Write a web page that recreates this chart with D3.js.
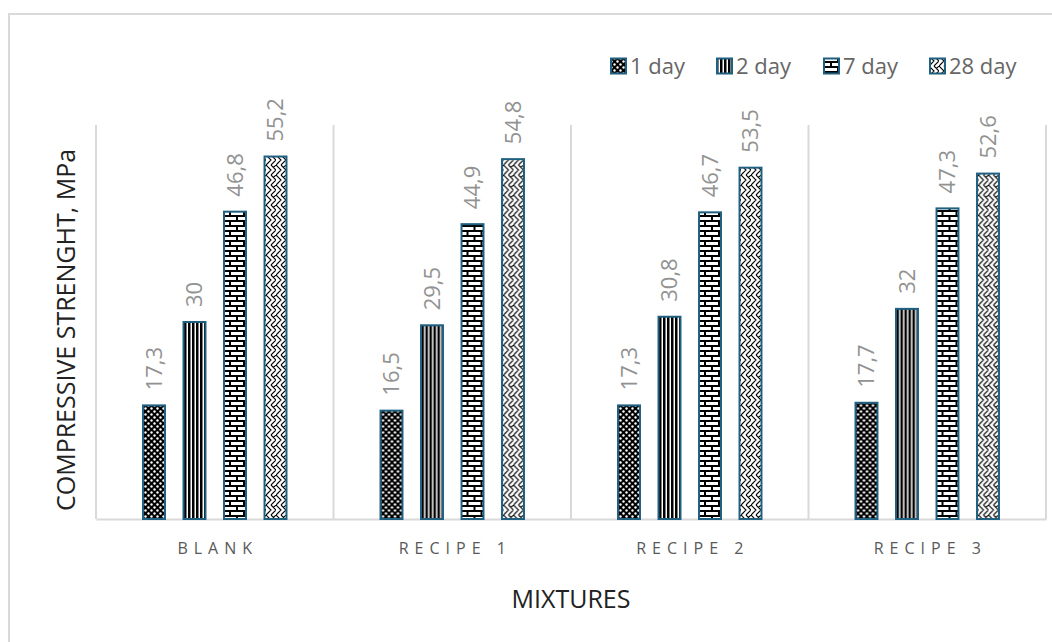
<!DOCTYPE html>
<html>
<head>
<meta charset="utf-8">
<script src="https://cdn.jsdelivr.net/npm/d3@7"></script>
<style>
  body { margin: 0; background: #fff; }
  svg { display: block; font-family: 'Open Sans', sans-serif; }
</style>
</head>
<body>
<div id="chart"></div>
<script>
// data
const categories = ['BLANK', 'RECIPE 1', 'RECIPE 2', 'RECIPE 3']
const seriesNames = ['1 day', '2 day', '7 day', '28 day']
const day1 = [17.3, 16.5, 17.3, 17.7]
const day2 = [30, 29.5, 30.8, 32]
const day7 = [46.8, 44.9, 46.7, 47.3]
const day28 = [55.2, 54.8, 53.5, 52.6]
const yDomain = [0, 60]

const seriesValues = [day1, day2, day7, day28]
const patternIds = ['pat1', 'pat2', 'pat7', 'pat28']

const W = 1052, H = 642
const margin = { top: 125, right: 6, bottom: 123, left: 96 }
const width = W - margin.left - margin.right,
  height = H - margin.top - margin.bottom

const borderColor = '#1f5f7f'
const gridColor = '#d9d9d9'

const svg = d3.select('#chart').append('svg').attr('width', W).attr('height', H)

// outer chart frame (right and bottom run off the picture)
svg.append('rect')
  .attr('x', 9).attr('y', 14)
  .attr('width', W + 10).attr('height', H + 10)
  .attr('fill', '#fff')
  .attr('stroke', gridColor).attr('stroke-width', 2)

// fill patterns
const defs = svg.append('defs')

const p1 = defs.append('pattern').attr('id', 'pat1').attr('patternUnits', 'userSpaceOnUse')
  .attr('width', 6).attr('height', 6)
p1.append('rect').attr('width', 6).attr('height', 6).attr('fill', '#000')
p1.append('circle').attr('cx', 1.5).attr('cy', 1.5).attr('r', 1.2).attr('fill', '#fff')
p1.append('circle').attr('cx', 4.5).attr('cy', 4.5).attr('r', 1.2).attr('fill', '#fff')

const p2 = defs.append('pattern').attr('id', 'pat2').attr('patternUnits', 'userSpaceOnUse')
  .attr('width', 4).attr('height', 4)
p2.append('rect').attr('width', 4).attr('height', 4).attr('fill', '#fff')
p2.append('rect').attr('width', 2.5).attr('height', 4).attr('fill', '#000')

const p7 = defs.append('pattern').attr('id', 'pat7').attr('patternUnits', 'userSpaceOnUse')
  .attr('width', 14).attr('height', 10)
p7.append('rect').attr('width', 14).attr('height', 10).attr('fill', '#fff')
p7.append('path')
  .attr('d', 'M0,1 H14 M0,6 H14 M1,1 V6 M8,6 V11')
  .attr('stroke', '#000').attr('stroke-width', 2).attr('fill', 'none')

const p28 = defs.append('pattern').attr('id', 'pat28').attr('patternUnits', 'userSpaceOnUse')
  .attr('width', 10).attr('height', 10)
p28.append('rect').attr('width', 10).attr('height', 10).attr('fill', '#fff')
p28.append('path')
  .attr('d', 'M0,0 L5,5 L0,10 M5,0 L10,5 L5,10 M7.5,2.5 L10,0 M2.5,7.5 L0,10')
  .attr('stroke', '#000').attr('stroke-width', 1.1).attr('fill', 'none')

const g = svg.append('g').attr('transform', `translate(${margin.left}, ${margin.top})`)

const x0 = d3.scaleBand().domain(categories).range([0, width]).padding(0)
const x1 = d3.scaleBand().domain(seriesNames)
  .range([x0.bandwidth() / 2 - 81, x0.bandwidth() / 2 + 81])
  .paddingInner(0.458).paddingOuter(0.229)
const y = d3.scaleLinear().domain(yDomain).range([height, 0])

// category separators
const bounds = categories.map((c) => x0(c)).concat([width])
g.selectAll('.sep').data(bounds).join('line')
  .attr('class', 'sep')
  .attr('x1', (d) => d).attr('x2', (d) => d)
  .attr('y1', 0).attr('y2', height)
  .attr('stroke', gridColor).attr('stroke-width', 2)

// bottom axis line + category labels
const xAxis = g.append('g')
  .attr('transform', `translate(0, ${height})`)
  .call(d3.axisBottom(x0).tickSize(0).tickPadding(24))
xAxis.select('.domain').attr('stroke', gridColor).attr('stroke-width', 2)
xAxis.selectAll('text')
  .attr('font-size', '16px')
  .attr('fill', '#595959')
  .attr('letter-spacing', '6px')
  .attr('dx', '3px')
  .attr('font-family', "'Open Sans', sans-serif")

const fmt = d3.formatLocale({ decimal: ',', thousands: '.', grouping: [3], currency: ['', ''] }).format('~g')

// bars
const groups = g.selectAll('.grp').data(categories).join('g')
  .attr('class', 'grp')
  .attr('transform', (d) => `translate(${x0(d)}, 0)`)

groups.each(function (cat, ci) {
  const rows = seriesNames.map((s, si) => ({ s, si, v: seriesValues[si][ci] }))
  const grp = d3.select(this)
  grp.selectAll('rect').data(rows).join('rect')
    .attr('x', (d) => x1(d.s))
    .attr('y', (d) => y(d.v))
    .attr('width', x1.bandwidth())
    .attr('height', (d) => height - y(d.v))
    .attr('fill', (d) => `url(#${patternIds[d.si]})`)
    .attr('stroke', borderColor)
    .attr('stroke-width', 2)
  grp.selectAll('text').data(rows).join('text')
    .attr('transform', (d) => `translate(${x1(d.s) + x1.bandwidth() / 2}, ${y(d.v) - 15}) rotate(-90)`)
    .attr('dy', '0.35em')
    .attr('font-size', '22px')
    .attr('fill', '#929292')
    .text((d) => fmt(d.v))
})

// axis titles
svg.append('text')
  .attr('transform', `translate(66, ${margin.top + height / 2 + 8}) rotate(-90)`)
  .attr('text-anchor', 'middle')
  .attr('dy', '0.35em')
  .attr('font-size', '25px')
  .attr('fill', '#222')
  .text('COMPRESSIVE STRENGHT, MPa')

svg.append('text')
  .attr('x', margin.left + width / 2)
  .attr('y', 599)
  .attr('text-anchor', 'middle')
  .attr('dy', '0.35em')
  .attr('font-size', '25px')
  .attr('fill', '#222')
  .text('MIXTURES')

// legend
const legendX = [610, 716, 823, 929]
const legend = svg.append('g').selectAll('g').data(seriesNames).join('g')
  .attr('transform', (d, i) => `translate(${legendX[i]}, 66)`)
legend.append('rect')
  .attr('x', 1).attr('y', -7.5).attr('width', 15).attr('height', 15)
  .attr('fill', (d, i) => `url(#${patternIds[i]})`)
  .attr('stroke', borderColor).attr('stroke-width', 2)
legend.append('text')
  .attr('x', 20)
  .attr('dy', '0.35em')
  .attr('font-size', '22px')
  .attr('fill', '#666')
  .text((d) => d)
</script>
</body>
</html>
